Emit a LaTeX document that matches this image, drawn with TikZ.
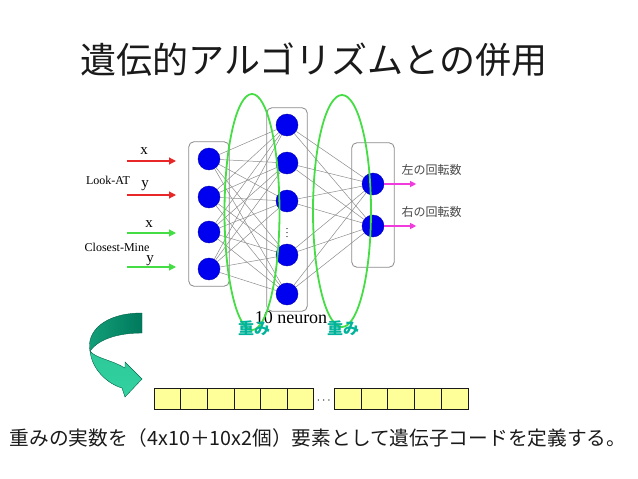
\documentclass[tikz,border=0pt]{standalone}
\usepackage{fontspec}
\setmainfont{Liberation Serif}
\newfontfamily\jp{Noto Sans CJK JP}
\usetikzlibrary{arrows.meta,calc,positioning,fit,backgrounds,shapes.geometric}
\definecolor{ink}{HTML}{1A1A1A}
\definecolor{nblue}{HTML}{0000F0}
\definecolor{ring}{HTML}{44DD44}
\definecolor{wteal}{HTML}{00B39A}
\definecolor{cellyel}{HTML}{FFFF99}
\definecolor{frame}{HTML}{8A8A8A}
\definecolor{wire}{HTML}{8C8C8C}
\definecolor{pink}{HTML}{F03CDC}
\definecolor{inred}{HTML}{E82828}
\definecolor{dkgreen}{HTML}{007A5C}
\definecolor{midgreen}{HTML}{13A07A}
\definecolor{ltgreen}{HTML}{33D2A0}

\begin{document}
\begin{tikzpicture}[>=Latex,x=1pt,y=-1pt,
  neuron/.style={circle,fill=nblue,draw=nblue!75!black,minimum size=22pt,inner sep=0pt},
  layerbox/.style={draw=frame,fill=white,rounded corners=5pt,line width=0.8pt},
  wiring/.style={draw=wire,line width=0.5pt},
  weightring/.style={ellipse,draw=ring,line width=1.8pt,inner sep=0pt},
  cell/.style={draw=ink,fill=cellyel,minimum width=26.6pt,minimum height=21pt,inner sep=0pt},
  inarrow/.style={-{Triangle[length=7pt,width=7pt]},line width=1.2pt}]
\useasboundingbox (0,0) rectangle (638,479);
\node[font=\jp\fontsize{36}{40}\selectfont,text=ink] (title) at (314,60) {遺伝的アルゴリズムとの併用};
% neurons
\foreach \i/\yy in {1/159,2/197,3/232,4/269}
  \node[neuron] (in\i) at (209,\yy) {};
\foreach \i/\yy in {1/125,2/163,3/201,4/255,5/294}
  \node[neuron] (hid\i) at (287,\yy) {};
\foreach \i/\yy in {1/184,2/226}
  \node[neuron] (out\i) at (373,\yy) {};
\node[font=\fontsize{10}{10}\selectfont,inner sep=0pt] (vdots) at (287,230) {$\vdots$};
\begin{scope}[on background layer]
  \node[layerbox,fit=(in1)(in4),inner xsep=9pt,inner ysep=6pt] (inbox) {};
  \node[layerbox,fit=(hid1)(hid5),inner xsep=9pt,inner ysep=6pt] (hidbox) {};
  \node[layerbox,fit=(out1)(out2),inner xsep=10pt,inner ysep=30pt] (outbox) {};
  \foreach \i in {1,...,4}
    \foreach \j in {1,...,5}
      \draw[wiring] (in\i) -- (hid\j);
  \foreach \j in {1,...,5}
    \foreach \k in {1,2}
      \draw[wiring] (hid\j) -- (out\k);
\end{scope}
% inputs
\foreach \i/\yy/\cc in {1/161/inred,2/195/inred,3/233/ring,4/267/ring}{
  \coordinate (src\i) at (127,\yy);
  \draw[inarrow,\cc] (src\i) -- +(49,0);
}
\node[font=\fontsize{15}{15}\selectfont] (lx1) at (144,151) {x};
\node[font=\fontsize{15}{15}\selectfont] (ly1) at (145,186) {y};
\node[font=\fontsize{12}{12}\selectfont] (look) at (108,180) {Look-AT};
\node[font=\fontsize{15}{15}\selectfont] (lx2) at (149,224) {x};
\node[font=\fontsize{15}{15}\selectfont] (ly2) at (150,261) {y};
\node[font=\fontsize{12}{12}\selectfont] (mine) at (117,247) {Closest-Mine};
% outputs
\foreach \i/\txt in {1/左の回転数,2/右の回転数}{
  \draw[-{Triangle[length=6pt,width=6pt]},pink,line width=1.1pt] (out\i.east) -- +(32,0);
  \node[font=\jp\fontsize{12}{12}\selectfont,text=ink!80,anchor=west,above right=5pt and 14pt of out\i.east] (lab\i) {\txt};
}
\node[font=\fontsize{18}{18}\selectfont] (neur) at (291,318) {10 neuron};
% weights
\node[weightring,minimum width=55pt,minimum height=236pt] (ring1) at (252,212) {};
\node[weightring,minimum width=58pt,minimum height=232pt] (ring2) at (342,211) {};
\node[font=\jp\bfseries\fontsize{16}{16}\selectfont,text=wteal] (wt1) at (254,328) {重み};
\node[font=\jp\bfseries\fontsize{16}{16}\selectfont,text=wteal] (wt2) at (343,328) {重み};
% curved arrow
\shade[left color=midgreen,right color=dkgreen,draw=dkgreen!80!black,line width=0.4pt]
  (142,313) .. controls (104,313) and (86,332) .. (90,351)
  .. controls (98,340) and (116,333) .. (142,333) -- cycle;
\shade[top color=ltgreen!80!midgreen,bottom color=ltgreen,draw=dkgreen!80!black,line width=0.4pt]
  (90,351) .. controls (92,370) and (108,384) .. (122,388) -- (125,397) -- (142,379)
  -- (125,362) -- (125,368) .. controls (112,360) and (95,358) .. (90,351) -- cycle;
% chromosome
\foreach \k in {0,...,5}
  \node[cell] (ca\k) at ({167.3+26.6*\k},398.5) {};
\foreach \k in {0,...,4}
  \node[cell,minimum width=26.8pt] (cb\k) at ({347.4+26.8*\k},398.5) {};
\node[font=\fontsize{12}{12}\selectfont,inner sep=0pt] (gap) at ($(ca5.east)!0.5!(cb0.west)+(0,2)$) {$\cdots$};
\node[font=\jp\fontsize{19.7}{22}\selectfont,text=ink] (note) at (318,438) {重みの実数を（4x10＋10x2個）要素として遺伝子コードを定義する。};
\end{tikzpicture}
\end{document}
